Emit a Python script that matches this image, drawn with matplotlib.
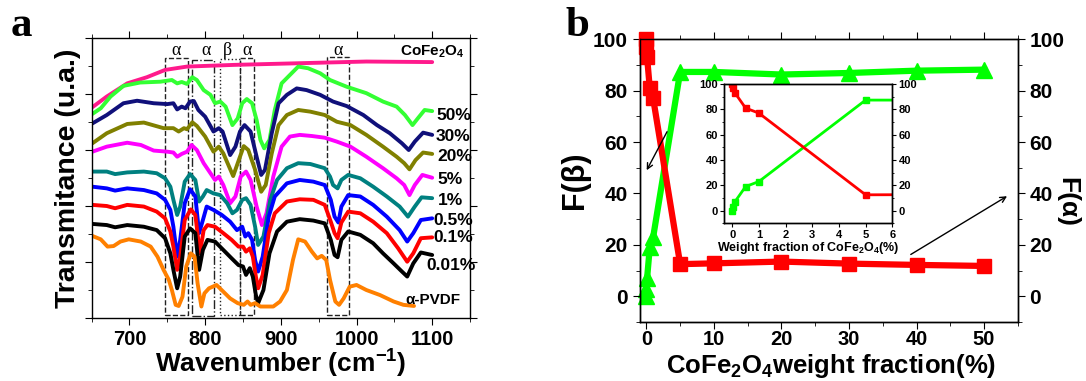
import matplotlib
matplotlib.use('Agg')
import matplotlib.pyplot as plt
from matplotlib.patches import Rectangle
from matplotlib.ticker import MultipleLocator

plt.rcParams['font.family'] = 'Liberation Sans'
plt.rcParams['font.weight'] = 'bold'
plt.rcParams['axes.labelweight'] = 'bold'
plt.rcParams['mathtext.fontset'] = 'custom'
plt.rcParams['mathtext.rm'] = 'Liberation Sans:bold'
plt.rcParams['mathtext.it'] = 'Liberation Sans:bold'
plt.rcParams['mathtext.bf'] = 'Liberation Sans:bold'
plt.rcParams['axes.linewidth'] = 1.0

# ---- panel a : FTIR spectra (wavenumber, offset transmittance) ----
wn_cofe = [651, 670, 697, 723, 747, 776, 838, 925, 1013, 1100]
t_cofe = [7.54, 7.92, 8.39, 8.61, 8.87, 8.99, 9.05, 9.11, 9.17, 9.15]

wn_50 = [651, 662, 675, 692, 714, 741, 756, 763, 769, 776, 783, 789, 798, 807, 813,
         820, 827, 836, 843, 849, 855, 862, 868, 873, 878, 885, 892, 901, 912, 923,
         936, 952, 965, 987, 1013, 1035, 1053, 1064, 1074, 1081, 1090, 1100]
t_50 = [7.30, 7.50, 7.92, 8.30, 8.42, 8.45, 8.51, 8.39, 8.44, 8.37, 8.61, 8.51, 8.15, 7.98, 7.68,
        7.74, 7.56, 6.90, 7.14, 7.68, 7.83, 7.68, 7.08, 6.37, 6.07, 6.37, 7.44, 8.39, 8.69, 8.99,
        8.93, 8.75, 8.51, 8.27, 8.04, 7.74, 7.56, 7.26, 6.90, 7.14, 7.44, 7.40]

wn_30 = [651, 670, 692, 710, 732, 750, 758, 763, 769, 774, 780, 785, 791, 800, 811,
         818, 823, 833, 840, 846, 852, 860, 868, 874, 879, 888, 897, 908, 921, 934,
         952, 969, 987, 1009, 1027, 1044, 1060, 1069, 1077, 1088, 1100]
t_30 = [6.96, 7.26, 7.68, 7.77, 7.68, 7.65, 7.68, 7.46, 7.56, 7.50, 7.74, 7.76, 7.44, 7.20, 6.67,
        6.79, 6.67, 5.83, 6.13, 6.67, 6.90, 6.67, 5.77, 5.12, 5.30, 6.61, 7.68, 7.98, 8.21, 8.15,
        7.98, 7.74, 7.58, 7.26, 6.90, 6.61, 6.25, 6.01, 6.31, 6.63, 6.55]

wn_20 = [651, 670, 697, 719, 745, 758, 765, 772, 776, 783, 789, 800, 811, 818, 824,
         837, 843, 851, 857, 866, 874, 880, 888, 897, 908, 923, 939, 958, 974, 992,
         1013, 1035, 1053, 1063, 1070, 1078, 1088, 1100]
t_20 = [6.25, 6.61, 6.94, 6.99, 6.79, 6.79, 6.67, 6.79, 6.75, 7.00, 6.87, 6.49, 5.95, 6.13, 5.89,
        5.08, 5.54, 6.15, 6.01, 5.30, 4.52, 4.76, 5.89, 6.90, 7.26, 7.44, 7.38, 7.26, 7.02, 6.90,
        6.55, 6.13, 5.77, 5.54, 5.32, 5.65, 5.92, 5.87]

wn_5 = [651, 670, 697, 715, 732, 750, 758, 763, 769, 776, 782, 789, 798, 807, 813,
        818, 824, 833, 840, 847, 854, 860, 868, 875, 881, 890, 901, 912, 925, 941,
        958, 974, 992, 1013, 1035, 1053, 1063, 1070, 1077, 1087, 1100]
t_5 = [5.95, 6.13, 6.27, 6.19, 5.99, 5.95, 5.92, 5.77, 5.87, 5.95, 6.19, 6.01, 5.54, 5.18, 4.94,
       5.06, 4.76, 4.11, 4.35, 5.06, 5.24, 4.94, 3.99, 3.33, 3.75, 5.06, 6.13, 6.49, 6.55, 6.51,
       6.45, 6.31, 6.13, 5.77, 5.36, 5.00, 4.76, 4.40, 4.76, 5.12, 5.02]

wn_1 = [651, 670, 681, 697, 719, 736, 747, 754, 758, 763, 767, 773, 780, 787, 792,
        797, 802, 811, 820, 829, 836, 842, 849, 854, 860, 866, 870, 877, 886, 895,
        908, 923, 939, 958, 965, 969, 975, 980, 989, 1005, 1022, 1040, 1057, 1068,
        1077, 1086, 1100]
t_1 = [5.24, 5.24, 5.15, 5.21, 5.24, 5.18, 5.00, 4.70, 4.23, 3.69, 3.99, 4.88, 5.15, 4.94, 4.17,
       4.35, 4.58, 4.46, 4.40, 4.11, 3.75, 3.87, 4.23, 4.29, 4.05, 3.27, 2.62, 2.92, 4.23, 4.94,
       5.36, 5.54, 5.51, 5.36, 5.06, 4.76, 4.64, 4.94, 5.12, 5.00, 4.70, 4.35, 3.99, 3.63,
       3.99, 4.32, 4.29]

wn_05 = [651, 670, 681, 697, 719, 736, 747, 754, 758, 763, 767, 773, 780, 787, 792,
         797, 802, 811, 822, 833, 842, 849, 853, 857, 862, 866, 870, 876, 884, 892,
         908, 925, 943, 958, 966, 971, 976, 980, 989, 1005, 1022, 1040, 1057, 1067,
         1075, 1085, 1100]
t_05 = [4.70, 4.64, 4.56, 4.64, 4.58, 4.46, 4.23, 3.87, 3.27, 2.20, 2.80, 4.11, 4.61, 4.35, 3.04,
        3.51, 3.99, 3.87, 3.69, 3.45, 3.15, 3.27, 2.92, 3.04, 2.80, 2.08, 1.67, 2.20, 3.63, 4.35,
        4.82, 4.94, 4.88, 4.76, 4.23, 3.63, 3.42, 3.99, 4.40, 4.35, 4.05, 3.63, 3.15, 2.74,
        3.04, 3.51, 3.57]

wn_01 = [651, 670, 681, 697, 719, 736, 747, 754, 758, 763, 767, 773, 781, 787, 793,
         798, 803, 813, 824, 835, 844, 850, 854, 859, 863, 867, 870, 876, 884, 892,
         908, 925, 943, 958, 966, 971, 975, 980, 989, 1005, 1022, 1040, 1055, 1067,
         1075, 1085, 1100]
t_01 = [4.05, 4.01, 3.93, 4.05, 3.99, 3.81, 3.57, 3.10, 2.56, 1.73, 2.20, 3.51, 3.89, 3.69, 2.32,
        3.15, 3.33, 3.27, 3.04, 2.80, 2.56, 2.56, 2.38, 2.50, 2.20, 1.49, 1.07, 1.55, 3.04, 3.75,
        4.17, 4.25, 4.23, 4.05, 3.45, 3.04, 2.86, 3.42, 3.81, 3.75, 3.45, 3.04, 2.50, 2.02,
        2.32, 2.86, 2.89]

wn_001 = [651, 670, 681, 697, 719, 736, 747, 754, 758, 763, 767, 773, 780, 787, 792,
          797, 803, 813, 824, 835, 844, 850, 854, 859, 863, 867, 870, 877, 885, 895,
          908, 925, 943, 958, 966, 971, 975, 980, 989, 1005, 1022, 1035, 1049, 1060,
          1067, 1075, 1085, 1100]
t_001 = [3.37, 3.33, 3.25, 3.33, 3.27, 3.15, 2.86, 2.32, 1.73, 1.07, 1.49, 2.92, 3.21, 3.04, 1.73,
         2.44, 2.80, 2.74, 2.44, 2.14, 1.90, 1.85, 1.55, 1.79, 1.49, 0.83, 0.54, 1.01, 2.32, 3.10,
         3.45, 3.54, 3.49, 3.39, 2.80, 2.26, 2.18, 2.80, 3.10, 2.98, 2.68, 2.32, 1.96, 1.67,
         1.49, 1.96, 2.35, 2.26]

wn_pvdf = [651, 662, 671, 679, 688, 699, 715, 728, 737, 745, 752, 756, 761, 765, 770,
           775, 781, 786, 790, 795, 799, 805, 815, 824, 833, 843, 851, 856, 860, 866,
           873, 890, 899, 908, 916, 923, 932, 941, 948, 954, 960, 965, 972, 977, 983,
           991, 1000, 1013, 1031, 1049, 1062, 1076]
t_pvdf = [2.94, 2.82, 2.56, 2.58, 2.74, 2.82, 2.74, 2.56, 2.20, 1.73, 1.37, 1.01, 0.48, 0.44, 0.77,
          1.85, 2.32, 2.20, 1.25, 0.42, 0.89, 1.07, 1.19, 0.95, 0.71, 0.54, 0.48, 0.60, 0.48, 0.54,
          0.42, 0.42, 0.60, 1.01, 2.08, 2.82, 2.74, 2.38, 2.14, 2.23, 2.08, 1.37, 0.60, 0.48, 0.71,
          1.13, 1.19, 1.01, 0.83, 0.60, 0.48, 0.44]

spectra = [
    (wn_cofe, t_cofe, '#ff1a8c', r'CoFe$_2$O$_4$', 1057, 9.50),
    (wn_50, t_50, '#33ff33', '50%', 1106, 7.26),
    (wn_30, t_30, '#10107a', '30%', 1105, 6.49),
    (wn_20, t_20, '#808000', '20%', 1107, 5.77),
    (wn_5, t_5, '#ff00ff', '5%', 1107, 4.94),
    (wn_1, t_1, '#008080', '1%', 1107, 4.22),
    (wn_05, t_05, '#0000ff', '0.5%', 1101, 3.51),
    (wn_01, t_01, '#ff0000', '0.1%', 1102, 2.89),
    (wn_001, t_001, '#000000', '0.01%', 1092, 1.90),
    (wn_pvdf, t_pvdf, '#ff8000', 'α-PVDF', 1064, 0.65),
]

# band regions: (x0, x1, y0, y1, style, label, label x)
bands = [
    (746.6, 777.5, 0.12, 9.29, '--', 'α', 761.5),
    (782.7, 812.1, 0.08, 9.22, '-.', 'α', 801.0),
    (820.0, 846.4, 0.10, 9.25, ':', 'β', 830.0),
    (846.4, 863.9, 0.10, 9.29, '--', 'α', 855.6),
    (960.7, 989.7, 0.12, 9.33, '--', 'α', 976.0),
]

# ---- panel b : phase fractions ----
frac = [0, 0.01, 0.1, 0.5, 1, 5, 10, 20, 30, 40, 50]
f_beta = [100, 97, 93, 81, 77, 12.5, 12.8, 13.5, 12.7, 12.2, 11.8]
f_alpha = [0, 3, 7, 19, 23, 87.3, 87.3, 86.3, 86.9, 87.8, 88.2]

fig = plt.figure(figsize=(10.86, 3.81), dpi=100)

# panel a
ax = fig.add_axes([0.0844, 0.1646, 0.3484, 0.7349])
for x, y, c, lab, lx, ly in spectra:
    ax.plot(x, y, color=c, lw=2.8, solid_joinstyle='round', solid_capstyle='round')
    fs = 11 if lab.startswith('Co') or lab.startswith('α') else 12.5
    ax.text(lx, ly, lab, fontsize=fs, ha='left', va='center')
for x0, x1, y0, y1, ls, lab, lx in bands:
    ax.add_patch(Rectangle((x0, y0), x1 - x0, y1 - y0, fill=False, ls=ls, lw=1.0, ec='#222222'))
    ax.text(lx, 9.55, lab, fontsize=13, family='Liberation Serif', fontweight='normal',
            ha='center', va='center')
ax.set_xlim(650, 1150)
ax.set_ylim(0, 10)
ax.xaxis.set_minor_locator(MultipleLocator(50))
ax.yaxis.set_major_locator(MultipleLocator(2))
ax.yaxis.set_minor_locator(MultipleLocator(1))
ax.set_xticks([700, 800, 900, 1000, 1100])
ax.tick_params(which='both', direction='out', top=True, right=True, labelleft=False, labelsize=14.5)
ax.tick_params(which='major', length=5)
ax.tick_params(which='minor', length=3)
ax.set_xlabel(r'Wavenumber (cm$^{-1}$)', fontsize=19, labelpad=-1)
ax.set_ylabel('Transmitance (u.a.)', fontsize=20.5, labelpad=3)
fig.text(0.010, 0.905, 'a', family='Liberation Serif', fontsize=31, fontweight='bold')

# panel b
axb = fig.add_axes([0.5890, 0.155, 0.3482, 0.7418])
axb2 = axb.twinx()
axb2.plot(frac, f_alpha, color='#00ff00', lw=4.5, marker='^', ms=11, clip_on=False)
axb.plot(frac, f_beta, color='#ff0000', lw=4.5, marker='s', ms=10, clip_on=False)
axb.set_zorder(axb2.get_zorder() + 1)
axb.patch.set_visible(False)
for a in (axb, axb2):
    a.set_xlim(-1, 55)
    a.set_ylim(-10, 100)
    a.yaxis.set_minor_locator(MultipleLocator(10))
    a.set_yticks([0, 20, 40, 60, 80, 100])
    a.tick_params(which='both', direction='out', labelsize=15)
    a.tick_params(which='major', length=5)
    a.tick_params(which='minor', length=3)
axb.xaxis.set_minor_locator(MultipleLocator(5))
axb.tick_params(which='both', top=True)
axb.tick_params(axis='x', pad=1, labelsize=14.5)
axb.set_xticks([0, 10, 20, 30, 40, 50])
axb.set_ylabel('F(β)', fontsize=22, labelpad=2)
fig.text(0.765, 0.022, r'CoFe$_2$O$_4$weight fraction(%)', fontsize=18.5, fontweight='bold',
         ha='center', va='baseline')
fig.text(0.983, 0.47, 'F(α)', fontsize=19, fontweight='bold', rotation=270,
         ha='center', va='center')
axb.annotate('', xy=(-0.15, 48.1), xytext=(3.25, 65),
             arrowprops=dict(arrowstyle='->', lw=1.0, color='k'))
axb.annotate('', xy=(53.76, 39.5), xytext=(38.8, 15.7),
             arrowprops=dict(arrowstyle='->', lw=1.0, color='k'))
fig.text(0.521, 0.905, 'b', family='Liberation Serif', fontsize=31, fontweight='bold')

# inset
axi = fig.add_axes([0.6669, 0.4139, 0.1547, 0.3656])
axi2 = axi.twinx()
axi.plot(frac, f_alpha, color='#00ff00', lw=2, marker='s', ms=5)
axi.plot(frac, f_beta, color='#ff0000', lw=2, marker='s', ms=5)
for a in (axi, axi2):
    a.set_xlim(-0.3, 6)
    a.set_ylim(-10, 100)
    a.yaxis.set_minor_locator(MultipleLocator(10))
    a.set_yticks([0, 20, 40, 60, 80, 100])
    a.tick_params(which='both', direction='out', labelsize=8, pad=1.5)
    a.tick_params(which='major', length=3)
    a.tick_params(which='minor', length=1.5)
axi.xaxis.set_major_locator(MultipleLocator(1))
axi.set_xlabel(r'Weight fraction of CoFe$_2$O$_4$(%)', fontsize=9, labelpad=0)

fig.savefig('out.png', dpi=100)
